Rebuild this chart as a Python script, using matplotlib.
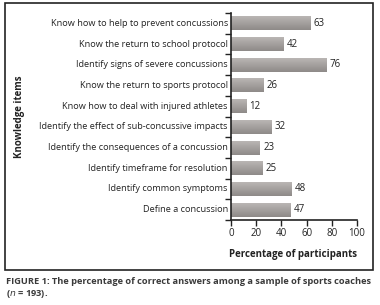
import matplotlib
matplotlib.use("Agg")
import matplotlib.pyplot as plt
import numpy as np
from matplotlib.patches import Rectangle

categories = [
    "Know how to help to prevent concussions",
    "Know the return to school protocol",
    "Identify signs of severe concussions",
    "Know the return to sports protocol",
    "Know how to deal with injured athletes",
    "Identify the effect of sub-concussive impacts",
    "Identify the consequences of a concussion",
    "Identify timeframe for resolution",
    "Identify common symptoms",
    "Define a concussion",
]
values = [63, 42, 76, 26, 12, 32, 23, 25, 48, 47]
x_ticks = [0, 20, 40, 60, 80, 100]
x_label = "Percentage of participants"
y_label = "Knowledge items"
caption1 = "FIGURE 1: The percentage of correct answers among a sample of sports coaches"
caption2 = r"($\mathit{n}$ = 193)."

plt.rcParams['font.family'] = ['Open Sans', 'DejaVu Sans']

W, H = 380, 305
fig = plt.figure(figsize=(W / 100, H / 100), dpi=100)

# outer frame box
box = Rectangle((5 / W, 1 - 270 / H), (373 - 5) / W, (270 - 3) / H,
                transform=fig.transFigure, fill=False, edgecolor='#222222', lw=1.2)
fig.add_artist(box)

ax = fig.add_axes([231 / W, 1 - 220 / H, (357 - 231) / W, (220 - 13) / H])
n = len(categories)
ypos = np.arange(n)[::-1]
bars = ax.barh(ypos, values, height=0.68, color='#a8a4a2', edgecolor='none')

grad = np.linspace(0, 1, 64).reshape(-1, 1)
cmap = matplotlib.colors.LinearSegmentedColormap.from_list('g', ['#bdb9b7', '#8e8a88'])
for b, v, y in zip(bars, values, ypos):
    im = ax.imshow(grad, extent=(0, v, y - 0.34, y + 0.34), origin='upper',
                   aspect='auto', cmap=cmap, zorder=2)
    im.set_clip_path(b)
    ax.text(v + 2.5, y, str(v), va='center', ha='left', fontsize=7, color='#222222')

ax.set_xlim(0, 100)
ax.set_ylim(-0.5, n - 0.5)
ax.set_xticks(x_ticks)
ax.set_xticklabels([str(t) for t in x_ticks], fontsize=7, color='#222222')
ax.set_yticks(np.arange(-0.5, n, 1.0))
ax.set_yticklabels([])
ax.tick_params(axis='y', length=4, direction='out', width=1, color='#222222')
ax.tick_params(axis='x', length=4, direction='out', width=1, color='#222222', pad=2)
for y, c in zip(ypos, categories):
    ax.text(-2.5, y, c, ha='right', va='center', fontsize=6.6, color='#222222')
for s in ['top', 'right']:
    ax.spines[s].set_visible(False)
for s in ['left', 'bottom']:
    ax.spines[s].set_color('#222222')
    ax.spines[s].set_linewidth(1.2)

fig.text(293 / W, 1 - 255 / H, x_label, ha='center', va='center', fontsize=7,
         fontweight='bold', color='#222222')
fig.text(20 / W, 1 - 117 / H, y_label, ha='center', va='center', fontsize=7,
         fontweight='bold', rotation=90, color='#222222')

fig.text(6 / W, 1 - 282 / H, caption1, ha='left', va='center', fontsize=6.7,
         fontweight='bold', color='#3a3a3a')
fig.text(6 / W, 1 - 294 / H, caption2, ha='left', va='center', fontsize=6.7,
         fontweight='bold', color='#3a3a3a')

fig.savefig("out.png", dpi=100)
